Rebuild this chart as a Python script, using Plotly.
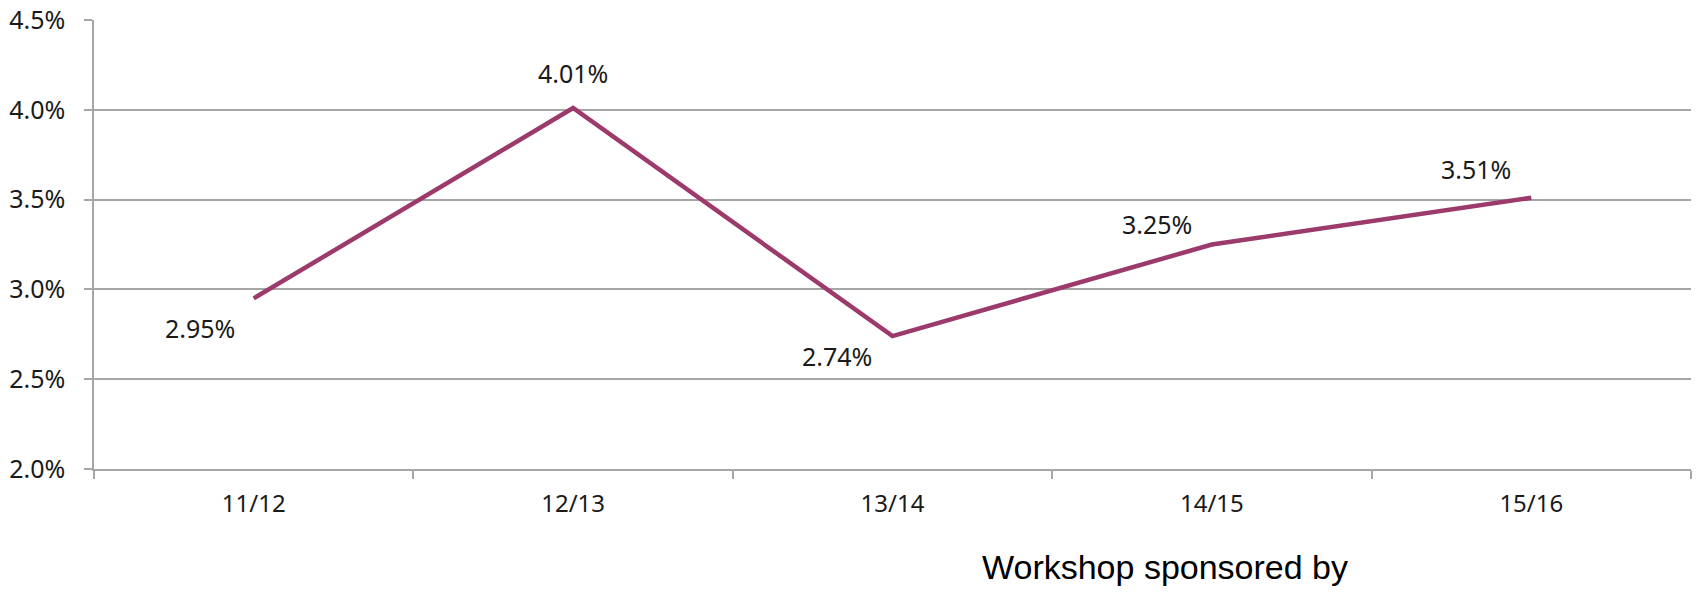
import plotly.graph_objects as go

seasons = ["11/12", "12/13", "13/14", "14/15", "15/16"]
rates = [0.0295, 0.0401, 0.0274, 0.0325, 0.0351]
label_texts = ["2.95%", "4.01%", "2.74%", "3.25%", "3.51%"]
y_ticks = [0.020, 0.025, 0.030, 0.035, 0.040, 0.045]

# pixel offsets of each value label relative to its point
label_dx = [-54, 0, -56, -55, -55]
label_dy = [-30, 35, -20, 21, 29]

LINE_COLOR = "#9b3a6b"
GRID = "#a6a6a6"
TEXT = "#1a1a1a"
FONT = "Noto Sans"

L, R, T, B = 94, 9, 20, 123
W, H = 1700, 592

fig = go.Figure()
fig.add_trace(go.Scatter(
    x=seasons, y=rates, mode="lines",
    line=dict(color=LINE_COLOR, width=4.5),
    hoverinfo="skip", showlegend=False,
))

for s, v, t, dx, dy in zip(seasons, rates, label_texts, label_dx, label_dy):
    fig.add_annotation(x=s, y=v, xref="x", yref="y", text=t, showarrow=False,
                       xshift=dx, yshift=dy,
                       font=dict(family=FONT, size=25, color=TEXT))

fig.add_annotation(x=(980 - L) / (W - L - R), y=(H - B - 567) / (H - B - T),
                   xref="paper", yref="paper", text="Workshop sponsored by",
                   showarrow=False, xanchor="left", yanchor="middle",
                   font=dict(family="Liberation Sans", size=34, color="#000000"))

fig.update_layout(
    width=W, height=H,
    margin=dict(l=L, r=R, t=T, b=B, pad=0, autoexpand=False),
    plot_bgcolor="white", paper_bgcolor="white",
    font=dict(family=FONT, size=24, color=TEXT),
    xaxis=dict(
        type="category", tickson="boundaries", ticks="outside", ticklen=8,
        tickcolor=GRID, tickwidth=1.5, showgrid=False,
        showline=True, linecolor=GRID, linewidth=1.5,
        range=[-0.5, 4.5], ticklabelstandoff=12, automargin=False,
        tickfont=dict(family=FONT, size=24, color=TEXT),
    ),
    yaxis=dict(
        range=[0.020, 0.045], tickvals=y_ticks, tickformat=".1%",
        ticks="outside", ticklen=8, tickcolor=GRID, tickwidth=1.5,
        showgrid=True, gridcolor=GRID, gridwidth=1.5,
        showline=True, linecolor=GRID, linewidth=1.5,
        zeroline=False, ticklabelstandoff=14, automargin=False,
        tickfont=dict(family=FONT, size=25, color=TEXT),
    ),
)

fig.write_html("out.html", config={"displayModeBar": False},
               post_script="document.body.style.margin='0';document.body.style.overflow='hidden';")
